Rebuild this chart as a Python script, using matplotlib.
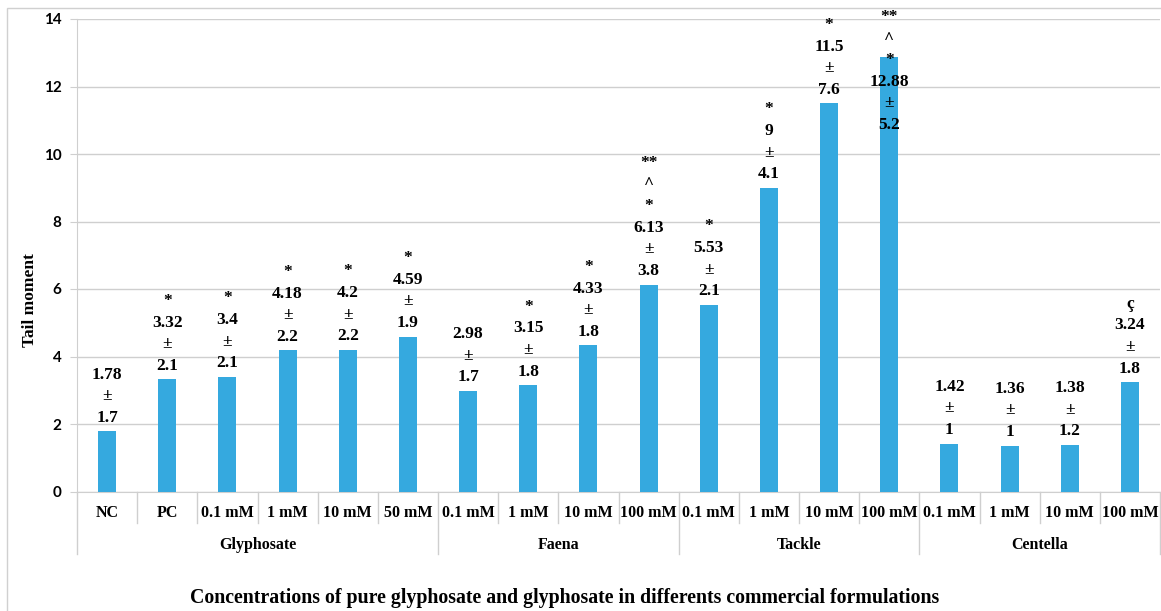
import numpy as np
import matplotlib
matplotlib.use("Agg")
import matplotlib.pyplot as plt
from matplotlib.patches import Rectangle

# data
categories = ["NC", "PC", "0.1 mM", "1 mM", "10 mM", "50 mM",
              "0.1 mM", "1 mM", "10 mM", "100 mM",
              "0.1 mM", "1 mM", "10 mM", "100 mM",
              "0.1 mM", "1 mM", "10 mM", "100 mM"]
groups = ["Glyphosate", "Faena", "Tackle", "Centella"]
group_sizes = [6, 4, 4, 4]
tail_moment = [1.78, 3.32, 3.4, 4.18, 4.2, 4.59,
               2.98, 3.15, 4.33, 6.13,
               5.53, 9, 11.5, 12.88,
               1.42, 1.36, 1.38, 3.24]
sd = [1.7, 2.1, 2.1, 2.2, 2.2, 1.9,
      1.7, 1.8, 1.8, 3.8,
      2.1, 4.1, 7.6, 5.2,
      1, 1, 1.2, 1.8]
signif = ["", "*", "*", "*", "*", "*",
          "", "*", "*", "**\n^\n*",
          "*", "*", "*", "**\n^\n*",
          "", "", "", "ç"]

W, H = 1161, 611
fig = plt.figure(figsize=(W / 100, H / 100), dpi=100)
ax = fig.add_axes([77 / W, 1 - 491.5 / H, (1160 - 77) / W, (491.5 - 19) / H])

bar_color = "#35A9DF"
grid_color = "#CFCFCF"
serif = ["Liberation Serif", "DejaVu Serif"]

x = np.arange(len(categories))
ax.bar(x, tail_moment, width=0.3, color=bar_color, zorder=3)

ax.set_xlim(-0.5, len(categories) - 0.5)
ax.set_ylim(0, 14)
ax.set_yticks(np.arange(0, 15, 2))
ax.yaxis.grid(True, color=grid_color, lw=1, zorder=0)
ax.set_xticks([])
for s in ["top", "right"]:
    ax.spines[s].set_visible(False)
ax.spines["left"].set_color(grid_color)
ax.spines["bottom"].set_color(grid_color)
ax.tick_params(axis="y", length=5, color=grid_color, pad=6)
for lab in ax.get_yticklabels():
    lab.set_family(["Lato", "DejaVu Sans"])
    lab.set_fontweight("bold")
    lab.set_fontsize(11)

# data labels
px_per_unit = (491.5 - 19) / 14
for i, (v, e, s) in enumerate(zip(tail_moment, sd, signif)):
    txt = f"{v:g}\n±\n{e:g}"
    if s:
        txt = s + "\n" + txt
    nlines = txt.count("\n") + 1
    height = (nlines * 21.5 + 8) / px_per_unit
    if v + height > 14.3:
        ax.text(i, 14.3, txt, ha="center", va="top", fontsize=12.5,
                fontweight="bold", family=serif, linespacing=1.47,
                clip_on=False, zorder=4)
    else:
        ax.annotate(txt, (i, v), xytext=(0, 4), textcoords="offset points",
                    ha="center", va="bottom", fontsize=12.5, fontweight="bold",
                    family=serif, linespacing=1.47, annotation_clip=False,
                    zorder=4)

# category axis below the plot
trans = ax.get_xaxis_transform()
axh = 491.5 - 19
short = 31 / axh
long = 62 / axh
bounds = np.cumsum([0] + group_sizes)
for b in range(len(categories) + 1):
    depth = long if b in bounds else short
    ax.plot([b - 0.5, b - 0.5], [0, -depth], color=grid_color, lw=1,
            transform=trans, clip_on=False)
for i, c in enumerate(categories):
    ax.text(i, -21.5 / axh, c, transform=trans, ha="center", va="center",
            fontsize=11.5, fontweight="bold", family=serif)
for g, a, b in zip(groups, bounds[:-1], bounds[1:]):
    ax.text((a + b - 1) / 2, -53.5 / axh, g, transform=trans, ha="center",
            va="center", fontsize=11.5, fontweight="bold", family=serif)

fig.text(565 / W, 1 - 598 / H,
         "Concentrations of pure glyphosate and glyphosate in differents commercial formulations",
         ha="center", va="center", fontsize=14.3, fontweight="bold", family=serif)
fig.text(30 / W, 1 - 300 / H, "Tail moment", rotation=90, ha="center",
         va="center", fontsize=12.5, fontweight="bold", family=serif)

# outer chart frame
fig.patches.append(Rectangle((7 / W, -0.1), 1.2, 1 - 8 / H + 0.1,
                             transform=fig.transFigure, fill=False,
                             edgecolor="#D0D0D0", lw=1))

fig.savefig("out.png", dpi=100)
